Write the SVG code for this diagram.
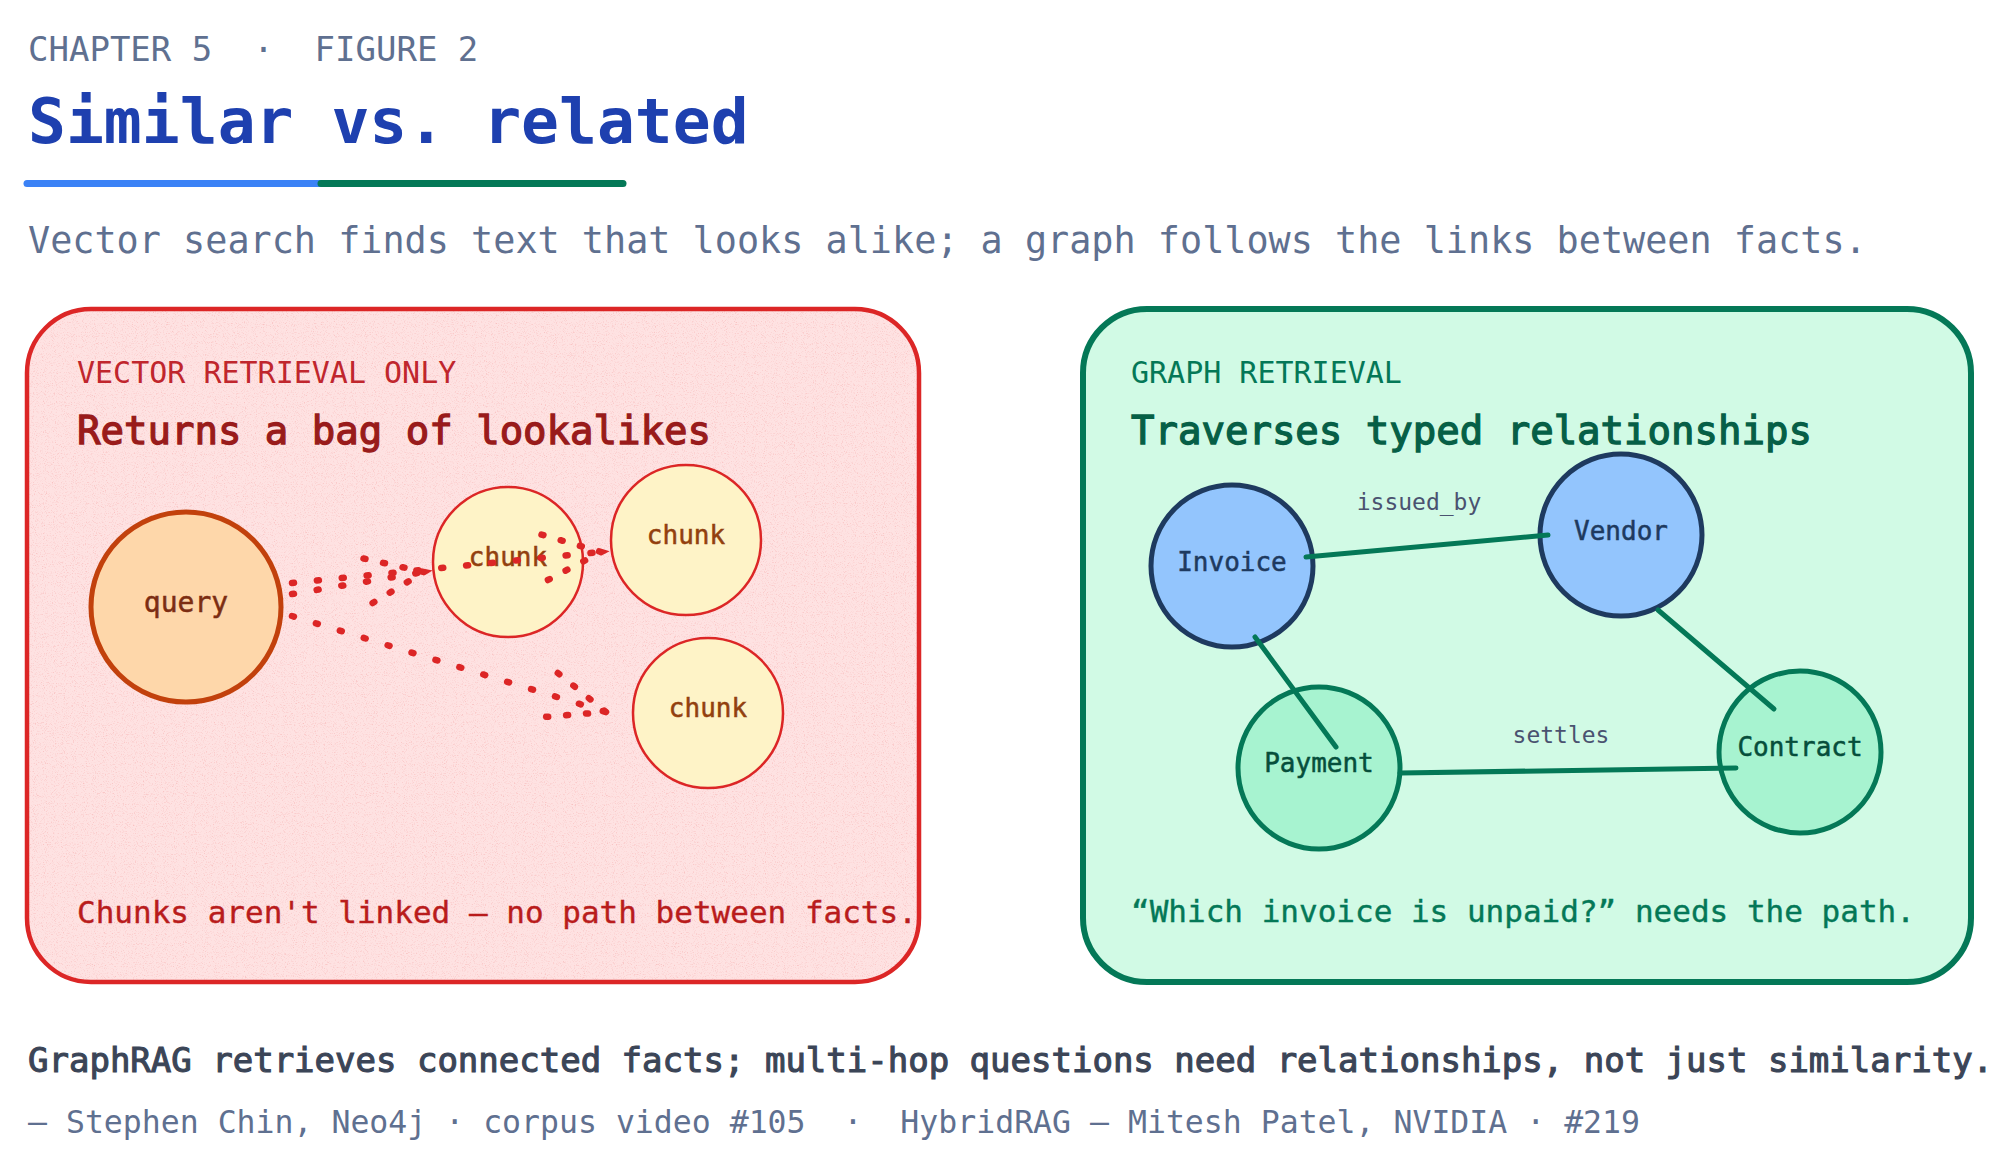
<svg xmlns="http://www.w3.org/2000/svg" width="2000" height="1173" viewBox="0 0 2000 1173">
  <defs>
    <style>
      text { font-family: "DejaVu Sans Mono", "Liberation Mono", monospace; }
      .kicker { font-size: 34px; fill: #5f7090; }
      .title { font-size: 63px; font-weight: bold; fill: #1e40af; }
      .sub { font-size: 36.8px; fill: #5f7090; }
      .ptag-r { font-size: 30px; fill: #c0262d; }
      .phead-r { font-size: 39px; fill: #991b1b; stroke: #991b1b; stroke-width: 1.3px; }
      .pcap-r { font-size: 31px; fill: #b91c1c; stroke: #b91c1c; stroke-width: 0.4px; }
      .ptag-g { font-size: 30px; fill: #047857; }
      .phead-g { font-size: 39px; fill: #065f46; stroke: #065f46; stroke-width: 1.3px; }
      .pcap-g { font-size: 31px; fill: #047857; stroke: #047857; stroke-width: 0.4px; }
      .take { font-size: 34px; fill: #3b4557; stroke: #3b4557; stroke-width: 1.1px; }
      .src { font-size: 31.5px; fill: #5f7090; }
      .nlabel { font-size: 26px; text-anchor: middle; stroke-width: 0.5px; }
      .elabel { font-size: 23px; fill: #4a5270; text-anchor: middle; }
      .chunk circle { fill: #fef3c7; stroke: #dc2626; stroke-width: 2.5; }
      .chunk text { fill: #92400e; stroke: #92400e; }
      .ent circle { fill: #93c5fd; stroke: #1e3a5f; stroke-width: 5; }
      .ent text { fill: #1e3a5f; stroke: #1e3a5f; }
      .evt circle { fill: #a7f3d0; stroke: #047857; stroke-width: 5; }
      .evt text { fill: #064e3b; stroke: #064e3b; }
      .dots { fill: none; stroke: #dc2626; stroke-width: 6.5; stroke-linecap: round; stroke-dasharray: 2 23; }
      .rel { fill: none; stroke: #047857; stroke-width: 5; stroke-linecap: round; }
    </style>
    <filter id="grain" x="0" y="0" width="100%" height="100%">
      <feTurbulence type="fractalNoise" baseFrequency="0.9" numOctaves="2" seed="7" result="n"/>
      <feColorMatrix in="n" type="matrix" values="0 0 0 0 0.85  0 0 0 0 0.2  0 0 0 0 0.2  3 0 0 0 -1.6" result="s"/>
      <feComposite in="s" in2="SourceGraphic" operator="in"/>
    </filter>
  </defs>

  <rect x="0" y="0" width="2000" height="1173" fill="#ffffff"/>

  <g id="header">
    <text class="kicker" x="28" y="61" xml:space="preserve">CHAPTER 5  ·  FIGURE 2</text>
    <text class="title" x="28" y="143">Similar vs. related</text>
    <line x1="27" y1="183.5" x2="321" y2="183.5" stroke="#3b82f6" stroke-width="7" stroke-linecap="round"/>
    <line x1="321" y1="183.5" x2="623" y2="183.5" stroke="#047857" stroke-width="7" stroke-linecap="round"/>
    <text class="sub" x="28" y="253">Vector search finds text that looks alike; a graph follows the links between facts.</text>
  </g>

  <g id="panel-vector">
    <rect x="27" y="309" width="892" height="673" rx="64" ry="64" fill="#fee2e2"/>
    <rect x="27" y="309" width="892" height="673" rx="64" ry="64" fill="#fee2e2" filter="url(#grain)" opacity="0.3"/>
    <rect x="27" y="309" width="892" height="673" rx="64" ry="64" fill="none" stroke="#dc2626" stroke-width="4.5"/>
    <text class="ptag-r" x="77" y="383">VECTOR RETRIEVAL ONLY</text>
    <text class="phead-r" x="77" y="444">Returns a bag of lookalikes</text>
    <text class="pcap-r" x="77" y="923">Chunks aren't linked — no path between facts.</text>
  </g>

  <g id="panel-graph">
    <rect x="1083" y="309" width="888" height="673" rx="64" ry="64" fill="#d1fae5" stroke="#047857" stroke-width="6"/>
    <text class="ptag-g" x="1131" y="383">GRAPH RETRIEVAL</text>
    <text class="phead-g" x="1131" y="444">Traverses typed relationships</text>
    <text class="pcap-g" x="1131" y="922">“Which invoice is unpaid?” needs the path.</text>
  </g>

  <g id="node-query">
    <circle cx="186" cy="607" r="95" fill="#fed7aa" stroke="#c2410c" stroke-width="5"/>
    <text class="nlabel" x="186" y="612" style="font-size:28px" fill="#7c2d12" stroke="#7c2d12">query</text>
  </g>
  <g id="node-chunk-1" class="chunk">
    <circle cx="508" cy="562" r="75"/>
    <text class="nlabel" x="508" y="566">chunk</text>
  </g>
  <g id="node-chunk-2" class="chunk">
    <circle cx="686" cy="540" r="75"/>
    <text class="nlabel" x="686" y="544">chunk</text>
  </g>
  <g id="node-chunk-3" class="chunk">
    <circle cx="708" cy="713" r="75"/>
    <text class="nlabel" x="708" y="717">chunk</text>
  </g>

  <g id="node-invoice" class="ent">
    <circle cx="1232" cy="566" r="81"/>
    <text class="nlabel" x="1232" y="571">Invoice</text>
  </g>
  <g id="node-vendor" class="ent">
    <circle cx="1621" cy="535" r="81"/>
    <text class="nlabel" x="1621" y="540">Vendor</text>
  </g>
  <g id="node-payment" class="evt">
    <circle cx="1319" cy="768" r="81"/>
    <text class="nlabel" x="1319" y="772">Payment</text>
  </g>
  <g id="node-contract" class="evt">
    <circle cx="1800" cy="752" r="81"/>
    <text class="nlabel" x="1800" y="756">Contract</text>
  </g>

  <g id="connectors">
    <path class="dots" d="M292 594 L424 572"/>
    <path class="dots" d="M363.5 558.5 L424 572 L371 604" style="stroke-dasharray:2 18"/>
    <path class="dots" d="M292 583 L601 552"/>
    <path class="dots" d="M541.5 534.6 L601 552 L546 581" style="stroke-dasharray:2 18"/>
    <path class="dots" d="M292 616 L606 712"/>
    <path class="dots" d="M557.8 673 L606 712 L544 717" style="stroke-dasharray:2 18"/>

    <line class="rel" x1="1306" y1="557" x2="1548" y2="535"/>
    <text class="elabel" x="1419" y="510">issued_by</text>
    <line class="rel" x1="1255" y1="637" x2="1336" y2="747"/>
    <line class="rel" x1="1658" y1="610" x2="1774" y2="709"/>
    <line class="rel" x1="1400" y1="773" x2="1736" y2="768"/>
    <text class="elabel" x="1561" y="743">settles</text>
  </g>

  <g id="footer">
    <text class="take" x="28" y="1072">GraphRAG retrieves connected facts; multi-hop questions need relationships, not just similarity.</text>
    <text class="src" x="28" y="1133" xml:space="preserve">— Stephen Chin, Neo4j · corpus video #105  ·  HybridRAG — Mitesh Patel, NVIDIA · #219</text>
  </g>
</svg>
